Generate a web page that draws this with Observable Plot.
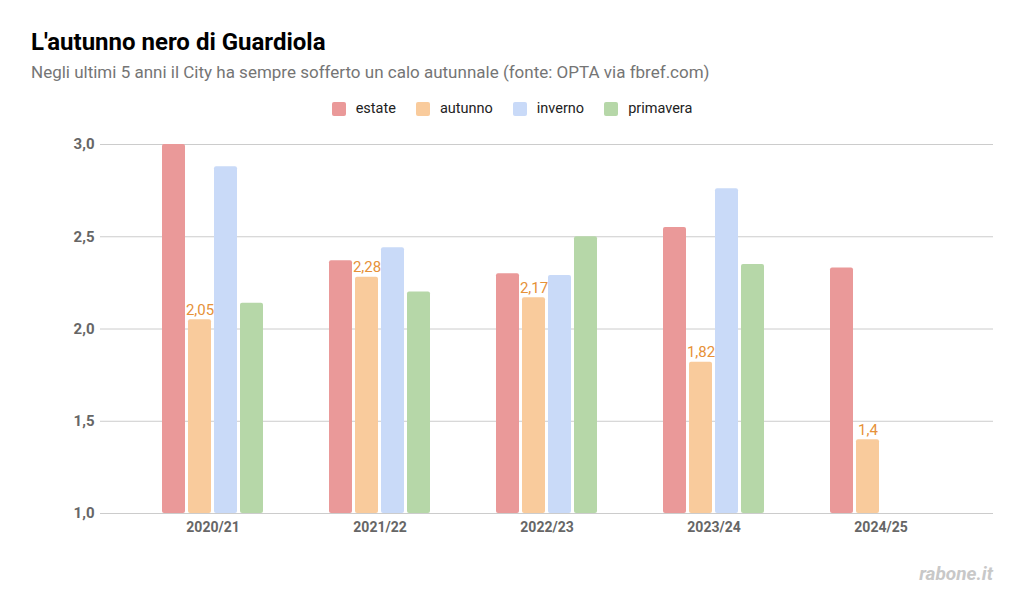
<!DOCTYPE html>
<html>
<head>
<meta charset="utf-8">
<script src="https://cdn.jsdelivr.net/npm/d3@7"></script>
<script src="https://cdn.jsdelivr.net/npm/@observablehq/plot@0.6"></script>
<style>
  html, body { margin: 0; padding: 0; background: #fff; }
  #wrap { position: relative; width: 1024px; height: 615px; overflow: hidden; font-family: Roboto, sans-serif; background: #fff; }
  #title { position: absolute; left: 31px; top: 30px; font-size: 24px; line-height: 1; font-weight: 700; color: #000; white-space: nowrap; }
  #subtitle { position: absolute; left: 31px; top: 64px; font-size: 17px; line-height: 1; color: #757575; white-space: nowrap; }
  #legend { position: absolute; left: 0; top: 102px; width: 1024px; display: flex; justify-content: center; align-items: center; font-size: 14.5px; line-height: 14px; color: #222; }
  #legend .item { display: flex; align-items: center; margin: 0 10px; }
  #legend .sw { width: 14px; height: 14px; border-radius: 2px; margin-right: 10px; }
  #ylabel { position: absolute; left: 40px; top: 337px; transform: translate(-50%, -50%) rotate(-90deg); font-size: 15px; font-weight: 700; color: #555; white-space: nowrap; }
  .layer { position: absolute; left: 0; top: 130px; }
  #credit { position: absolute; right: 31px; top: 564px; font-size: 19px; line-height: 1; font-weight: 700; font-style: italic; color: #c8c8c8; }
</style>
</head>
<body>
<div id="wrap">
  <div id="title">L'autunno nero di Guardiola</div>
  <div id="subtitle">Negli ultimi 5 anni il City ha sempre sofferto un calo autunnale (fonte: OPTA via fbref.com)</div>
  <div id="legend"></div>
  <div id="ylabel">media punti</div>
  <div id="grid" class="layer"></div>
  <div id="chart" class="layer"></div>
  <div id="credit">rabone.it</div>
</div>
<script>
// ---- data ----
const seasons = ["2020/21", "2021/22", "2022/23", "2023/24", "2024/25"];
const quarters = ["estate", "autunno", "inverno", "primavera"];
const estate    = [3.00, 2.37, 2.30, 2.55, 2.33];
const autunno   = [2.05, 2.28, 2.17, 1.82, 1.40];
const inverno   = [2.88, 2.44, 2.29, 2.76, null];
const primavera = [2.14, 2.20, 2.50, 2.35, null];
const colors = ["#ea9999", "#f9cb9c", "#c9daf8", "#b6d7a8"];
const yTicks = [1.0, 1.5, 2.0, 2.5, 3.0];

const series = {estate, autunno, inverno, primavera};
const table = [];
seasons.forEach((s, i) => {
  quarters.forEach(q => {
    const v = series[q][i];
    if (v != null) table.push({season: s, quarter: q, value: v});
  });
});

const fmt = (d, digits) => d.toFixed(digits).replace(".", ",");
const labelFmt = d => String(+d.toFixed(2)).replace(".", ",");

// ---- legend ----
const legend = document.getElementById("legend");
quarters.forEach((q, i) => {
  const it = document.createElement("div");
  it.className = "item";
  const sw = document.createElement("div");
  sw.className = "sw";
  sw.style.background = colors[i];
  const tx = document.createElement("span");
  tx.textContent = q;
  it.appendChild(sw); it.appendChild(tx);
  legend.appendChild(it);
});

const common = {
  width: 1024,
  height: 485,
  marginLeft: 100,
  marginRight: 31,
  marginTop: 14,
  marginBottom: 102,
  y: {domain: [1, 3], axis: null}
};

// ---- background layer: grid + y tick labels ----
const grid = Plot.plot({
  ...common,
  style: {fontFamily: "Roboto, sans-serif", background: "#fff"},
  marks: [
    Plot.ruleY(yTicks, {y: d => d, stroke: "#cccccc", strokeWidth: 1}),
    Plot.text(yTicks, {y: d => d, text: d => fmt(d, 1), frameAnchor: "left", textAnchor: "end", dx: -6,
      fontSize: 15, fontWeight: "bold", fill: "#666"})
  ]
});
document.getElementById("grid").appendChild(grid);

// ---- bars layer ----
const chart = Plot.plot({
  ...common,
  style: {fontFamily: "Roboto, sans-serif", background: "transparent"},
  fx: {domain: seasons, paddingInner: 0.37, paddingOuter: 0.356, label: null},
  x: {domain: quarters, paddingInner: 0.1, paddingOuter: 0, axis: null},
  color: {domain: quarters, range: colors},
  marks: [
    Plot.barY(table, {fx: "season", x: "quarter", y1: 1, y2: "value", fill: "quarter", rx: 2}),
    Plot.text(table.filter(d => d.quarter === "autunno"), {
      fx: "season", x: "quarter", y: "value", text: d => labelFmt(d.value),
      lineAnchor: "bottom", dy: -5, fontSize: 15, fill: "#e69138"
    }),
    Plot.axisFx({anchor: "bottom", tickSize: 0, tickPadding: 9, label: null,
      fontSize: 14, fontWeight: "bold", fill: "#666"})
  ]
});
document.getElementById("chart").appendChild(chart);
</script>
</body>
</html>
